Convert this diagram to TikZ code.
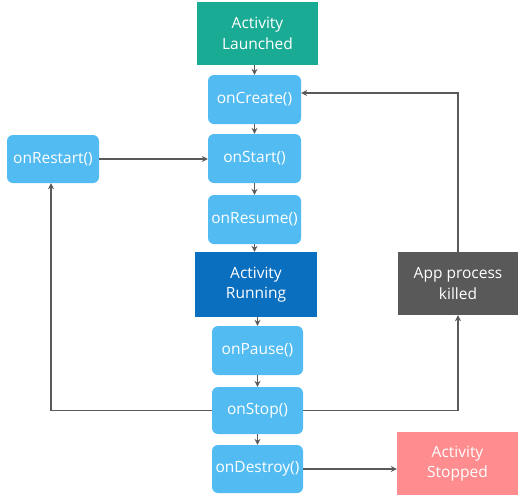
\documentclass[tikz,border=0pt]{standalone}
\usepackage{fontspec}
\setmainfont{Open Sans}
\usetikzlibrary{arrows.meta}
\definecolor{teal1}{HTML}{1AAB95}
\definecolor{lblue}{HTML}{52BBF2}
\definecolor{dblue}{HTML}{0B6FC0}
\definecolor{dgray}{HTML}{595959}
\definecolor{pinkc}{HTML}{FF8C8E}
\definecolor{linec}{HTML}{5A5A5A}
\begin{document}
\begin{tikzpicture}[x=1pt,y=1pt,
  every node/.style={font=\fontsize{15.5}{20.5}\selectfont, text=white, align=center, inner sep=0pt},
  method/.style={fill=lblue, rounded corners=6pt, minimum width=93pt, minimum height=49pt},
  state/.style={minimum width=121pt, minimum height=63pt},
  conn/.style={draw=linec, line width=1.3pt, -{Stealth[length=6pt,width=6pt]}}]
\useasboundingbox (0,0) rectangle (522,-499);
\node[state, fill=teal1] (launched) at (257.5,-33.5) {Activity\\Launched};
\node[method] (create) at (254.5,-99.5) {onCreate()};
\node[method] (start) at (254.5,-158.5) {onStart()};
\node[method] (resume) at (254.5,-219.5) {onResume()};
\node[state, fill=dblue, minimum width=122pt, minimum height=65pt] (running) at (256,-284.5) {Activity\\Running};
\node[method, minimum width=91pt] (pause) at (257.5,-350.5) {onPause()};
\node[method, minimum width=91pt, minimum height=47pt] (stop) at (257.5,-410.5) {onStop()};
\node[method, minimum width=91pt, minimum height=48pt] (destroy) at (257.5,-469) {onDestroy()};
\node[method, minimum width=92pt, minimum height=48pt] (restart) at (53,-159) {onRestart()};
\node[state, fill=dgray, minimum width=120pt] (killed) at (458,-283.5) {App process\\killed};
\node[state, fill=pinkc] (stopped) at (457.5,-463.5) {Activity\\Stopped};
\coordinate (lc) at (51,-410.5);
\coordinate (rc) at (458,-410.5);
\coordinate (tc) at (458,-93);
% vertical chain
\draw[conn] (launched.south -| create.north) -- (create.north);
\draw[conn] (create.south) -- (start.north);
\draw[conn] (start.south) -- (resume.north);
\draw[conn] (resume.south) -- (resume.south |- running.north);
\draw[conn] (running.south -| pause.north) -- (pause.north);
\draw[conn] (pause.south) -- (stop.north);
\draw[conn] (stop.south) -- (destroy.north);
% loops
\draw[conn] (restart.east) -- (restart.east -| start.west);
\draw[conn] (stop.west) -- (lc) -- (lc |- restart.south);
\draw[conn] (stop.east) -- (rc) -- (killed.south);
\draw[conn] (killed.north) -- (tc) -- (tc -| create.east);
\draw[conn] (destroy.east) -- (destroy.east -| stopped.west);
\end{tikzpicture}
\end{document}
